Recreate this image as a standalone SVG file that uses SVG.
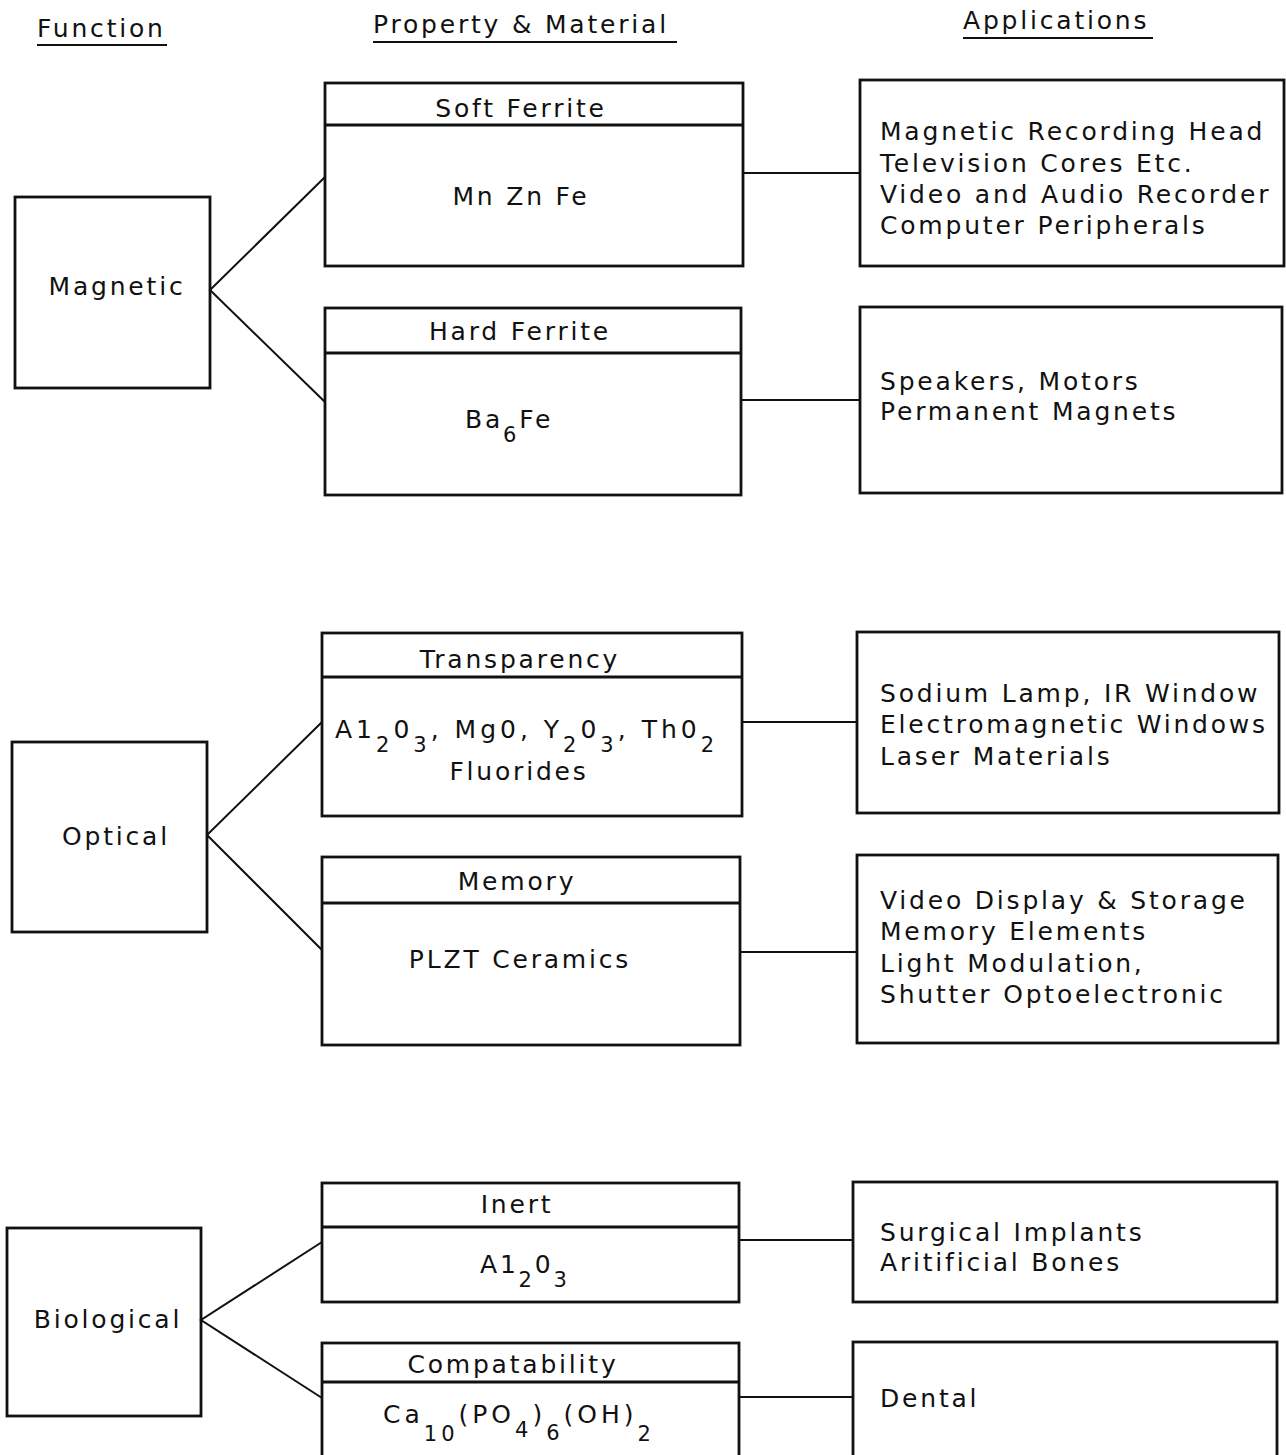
<svg xmlns="http://www.w3.org/2000/svg" width="1286" height="1455" viewBox="0 0 1286 1455">
<style>
.bx{fill:none;stroke:#111;stroke-width:2.8}
.dv{stroke:#111;stroke-width:2.8}
.cn{stroke:#111;stroke-width:2;fill:none}
.ul{stroke:#111;stroke-width:2}
text{font-family:"DejaVu Sans","Liberation Sans",sans-serif;font-size:25px;letter-spacing:2.8px;fill:#111}
.c{text-anchor:middle}
.s{font-size:21px}
.w{letter-spacing:4px}
</style>
<rect width="1286" height="1455" fill="#fff"/>
<g id="headers">
<text x="37" y="37">Function</text>
<line class="ul" x1="37" y1="45" x2="167" y2="45"/>
<text x="373" y="33">Property &amp; Material</text>
<line class="ul" x1="373" y1="42" x2="677" y2="42"/>
<text x="963" y="29">Applications</text>
<line class="ul" x1="963" y1="38" x2="1153" y2="38"/>
</g>
<g id="connectors">
<polyline class="cn" points="325,177 210,290 325,402"/>
<line class="cn" x1="743" y1="173" x2="860" y2="173"/>
<line class="cn" x1="741" y1="400" x2="860" y2="400"/>
<polyline class="cn" points="322,722 207,835 322,950"/>
<line class="cn" x1="742" y1="722" x2="857" y2="722"/>
<line class="cn" x1="740" y1="952" x2="857" y2="952"/>
<polyline class="cn" points="322,1242 201,1320 322,1398"/>
<line class="cn" x1="739" y1="1240" x2="853" y2="1240"/>
<line class="cn" x1="739" y1="1397" x2="853" y2="1397"/>
</g>
<g id="func-magnetic">
<rect class="bx" x="15" y="197" width="195" height="191"/>
<text x="117" y="295" class="c">Magnetic</text>
</g>
<g id="func-optical">
<rect class="bx" x="12" y="742" width="195" height="190"/>
<text x="116" y="845" class="c">Optical</text>
</g>
<g id="func-biological">
<rect class="bx" x="7" y="1228" width="194" height="188"/>
<text x="108" y="1328" class="c">Biological</text>
</g>
<g id="prop-soft-ferrite">
<rect class="bx" x="325" y="83" width="418" height="183"/>
<line class="dv" x1="325" y1="125" x2="743" y2="125"/>
<text x="521" y="117" class="c">Soft Ferrite</text>
<text x="521" y="205" class="c">Mn Zn Fe</text>
</g>
<g id="prop-hard-ferrite">
<rect class="bx" x="325" y="308" width="416" height="187"/>
<line class="dv" x1="325" y1="353" x2="741" y2="353"/>
<text x="520" y="340" class="c">Hard Ferrite</text>
<text x="465" y="428">Ba<tspan class="s" dy="14">6</tspan><tspan dy="-14">Fe</tspan></text>
</g>
<g id="prop-transparency">
<rect class="bx" x="322" y="633" width="420" height="183"/>
<line class="dv" x1="322" y1="677" x2="742" y2="677"/>
<text x="520" y="668" class="c">Transparency</text>
<text x="335" y="738" class="w">A1<tspan class="s" dy="14">2</tspan><tspan dy="-14">0</tspan><tspan class="s" dy="14">3</tspan><tspan dy="-14">, Mg0, Y</tspan><tspan class="s" dy="14">2</tspan><tspan dy="-14">0</tspan><tspan class="s" dy="14">3</tspan><tspan dy="-14">, Th0</tspan><tspan class="s" dy="14">2</tspan></text>
<text x="519" y="780" class="c">Fluorides</text>
</g>
<g id="prop-memory">
<rect class="bx" x="322" y="857" width="418" height="188"/>
<line class="dv" x1="322" y1="903" x2="740" y2="903"/>
<text x="517" y="890" class="c">Memory</text>
<text x="520" y="968" class="c">PLZT Ceramics</text>
</g>
<g id="prop-inert">
<rect class="bx" x="322" y="1183" width="417" height="119"/>
<line class="dv" x1="322" y1="1227" x2="739" y2="1227"/>
<text x="517" y="1213" class="c">Inert</text>
<text x="480" y="1273">A1<tspan class="s" dy="14">2</tspan><tspan dy="-14">0</tspan><tspan class="s" dy="14">3</tspan></text>
</g>
<g id="prop-compatability">
<rect class="bx" x="322" y="1343" width="417" height="140"/>
<line class="dv" x1="322" y1="1382" x2="739" y2="1382"/>
<text x="513" y="1373" class="c">Compatability</text>
<text x="383" y="1423" class="w">Ca<tspan class="s" dy="18">10</tspan><tspan dy="-18">(PO</tspan><tspan class="s" dy="14">4</tspan><tspan dy="-14">)</tspan><tspan class="s" dy="17">6</tspan><tspan dy="-17">(OH)</tspan><tspan class="s" dy="18">2</tspan></text>
</g>
<g id="app-soft-ferrite">
<rect class="bx" x="860" y="80" width="424" height="186"/>
<text x="880" y="140">Magnetic Recording Head</text>
<text x="880" y="172">Television Cores Etc.</text>
<text x="880" y="203">Video and Audio Recorder</text>
<text x="880" y="234">Computer Peripherals</text>
</g>
<g id="app-hard-ferrite">
<rect class="bx" x="860" y="307" width="422" height="186"/>
<text x="880" y="390">Speakers, Motors</text>
<text x="880" y="420">Permanent Magnets</text>
</g>
<g id="app-transparency">
<rect class="bx" x="857" y="632" width="422" height="181"/>
<text x="880" y="702">Sodium Lamp, IR Window</text>
<text x="880" y="733">Electromagnetic Windows</text>
<text x="880" y="765">Laser Materials</text>
</g>
<g id="app-memory">
<rect class="bx" x="857" y="855" width="421" height="188"/>
<text x="880" y="909">Video Display &amp; Storage</text>
<text x="880" y="940">Memory Elements</text>
<text x="880" y="972">Light Modulation,</text>
<text x="880" y="1003">Shutter Optoelectronic</text>
</g>
<g id="app-inert">
<rect class="bx" x="853" y="1182" width="424" height="120"/>
<text x="880" y="1241">Surgical Implants</text>
<text x="880" y="1271">Aritificial Bones</text>
</g>
<g id="app-compatability">
<rect class="bx" x="853" y="1342" width="424" height="140"/>
<text x="880" y="1407">Dental</text>
</g>
</svg>
